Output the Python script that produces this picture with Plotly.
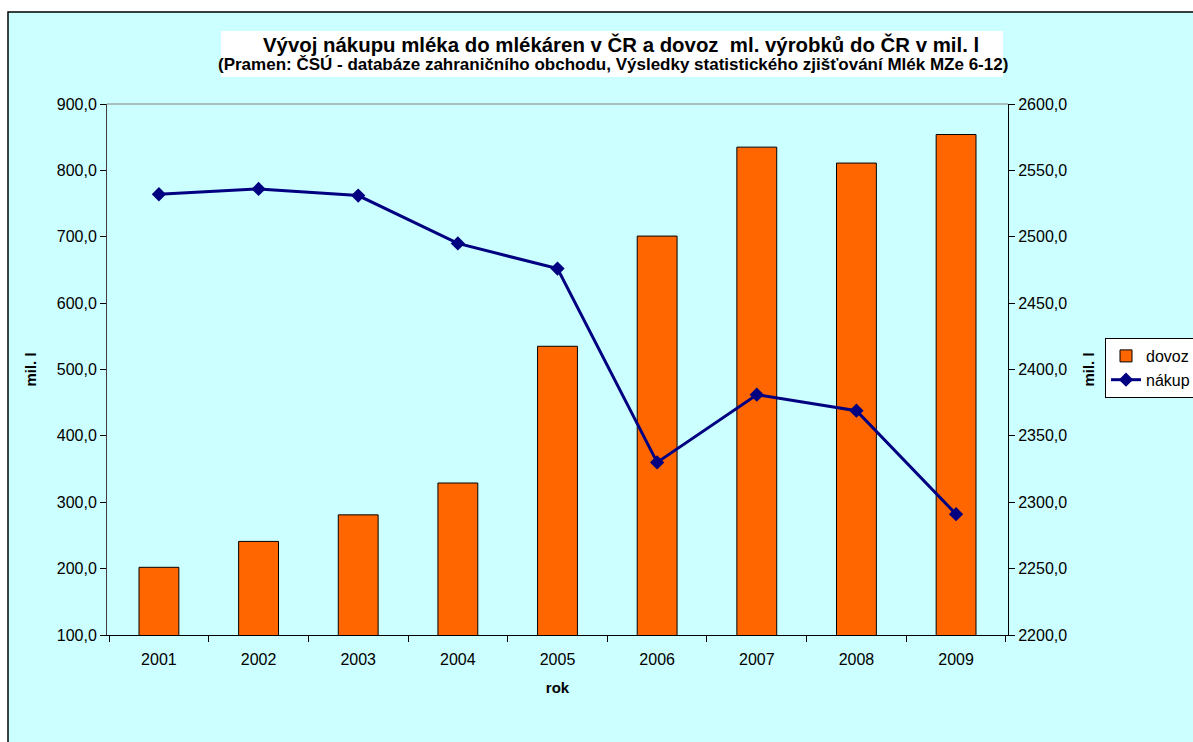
import plotly.graph_objects as go

years = ["2001", "2002", "2003", "2004", "2005", "2006", "2007", "2008", "2009"]
dovoz = [202, 241, 281, 329, 535, 701, 835, 811, 854]
nakup = [2532, 2536, 2531, 2495, 2476, 2330, 2381, 2369, 2291]
left_ticks = [100, 200, 300, 400, 500, 600, 700, 800, 900]
right_ticks = [2200, 2250, 2300, 2350, 2400, 2450, 2500, 2550, 2600]

def fmt(v):
    return f"{v:.1f}".replace(".", ",")

W, H = 1193, 742
L, R, T, B = 107, 1008, 104, 635

def px(x):
    return (x - L) / (R - L)

def py(y):
    return (B - y) / (B - T)

fig = go.Figure()
fig.add_trace(go.Bar(
    x=years, y=dovoz, name="dovoz",
    marker=dict(color="#FF6600", line=dict(color="#000000", width=1)),
    yaxis="y",
))
fig.add_trace(go.Scatter(
    x=years, y=nakup, name="nákup", mode="lines+markers",
    line=dict(color="#000080", width=3),
    marker=dict(symbol="diamond", size=11, color="#000080"),
    yaxis="y2",
))

font = "Arial, Liberation Sans, sans-serif"
tf = dict(family=font, size=16, color="#000000")
fig.update_layout(
    width=W, height=H,
    margin=dict(l=L, r=W - R, t=T, b=H - B, pad=0, autoexpand=False),
    paper_bgcolor="#FFFFFF",
    plot_bgcolor="#FFFF99",
    bargap=0.6,
    font=dict(family=font, size=15, color="#000000"),
    showlegend=True,
    legend=dict(
        xref="container", yref="container",
        x=1105 / W, y=1 - 338 / H, xanchor="left", yanchor="top",
        bgcolor="#FFFFFF", bordercolor="#000000", borderwidth=1,
        font=dict(family=font, size=16), tracegroupgap=0, itemwidth=30,
    ),
    xaxis=dict(
        type="category", tickson="boundaries", ticks="outside", ticklen=6,
        tickcolor="#000000", showline=True, linecolor="#000000", linewidth=1,
        mirror=False, showgrid=False, ticklabelstandoff=10,
        tickfont=tf,
        title=dict(text="<b>rok</b>", font=dict(family=font, size=15), standoff=15),
    ),
    yaxis=dict(
        range=[100, 900], tickvals=left_ticks, ticktext=[fmt(v) for v in left_ticks],
        ticks="outside", ticklen=6, tickcolor="#000000",
        showline=True, linecolor="#404040", linewidth=1, showgrid=False, zeroline=False,
        tickfont=tf,
        title=dict(text="<b>mil. l</b>", font=dict(family=font, size=15), standoff=16),
    ),
    yaxis2=dict(
        range=[2200, 2600], tickvals=right_ticks, ticktext=[fmt(v) for v in right_ticks],
        overlaying="y", side="right",
        ticks="outside", ticklen=6, tickcolor="#000000",
        showline=True, linecolor="#000000", linewidth=1, showgrid=False, zeroline=False,
        tickfont=tf,
        title=dict(text="<b>mil. l</b>", font=dict(family=font, size=15), standoff=17),
    ),
)

# chart area background with border (extends past the right/bottom edges)
fig.add_shape(type="rect", xref="paper", yref="paper", layer="below",
              x0=px(8), x1=px(W + 5), y0=py(H + 5), y1=py(12),
              fillcolor="#CCFFFF", line=dict(color="#000000", width=1.5))
# plot top border
fig.add_shape(type="line", xref="paper", yref="paper", x0=0, x1=1, y0=1, y1=1,
              line=dict(color="#808080", width=1))
# title box
fig.add_shape(type="rect", xref="paper", yref="paper", layer="below",
              x0=px(221), x1=px(1003), y0=py(77), y1=py(31),
              fillcolor="#FFFFFF", line=dict(width=0))
fig.add_annotation(xref="paper", yref="paper", x=px(621), y=py(45),
                   text="<b>Vývoj nákupu mléka do mlékáren v ČR a dovoz  ml. výrobků do ČR v mil. l</b>",
                   showarrow=False, font=dict(family=font, size=20.4), xanchor="center", yanchor="middle")
fig.add_annotation(xref="paper", yref="paper", x=px(613), y=py(65),
                   text="<b>(Pramen: ČSÚ - databáze zahraničního obchodu, Výsledky statistického zjišťování Mlék MZe 6-12)</b>",
                   showarrow=False, font=dict(family=font, size=17), xanchor="center", yanchor="middle")

fig.write_html(
    "out.html",
    config={"displayModeBar": False},
    post_script="document.body.style.margin='0';document.body.style.overflow='hidden';",
)
